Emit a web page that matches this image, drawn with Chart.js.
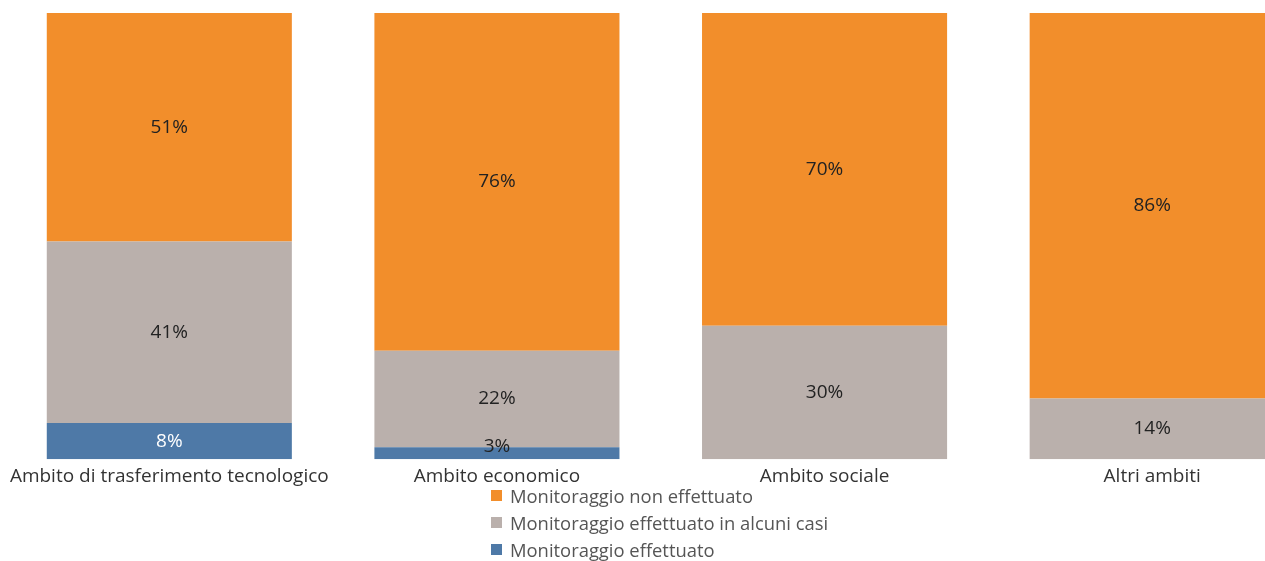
<!DOCTYPE html>
<html>
<head>
<meta charset="utf-8">
<script src="https://cdn.jsdelivr.net/npm/chart.js@4/dist/chart.umd.min.js"></script>
<style>
  html, body { margin: 0; padding: 0; background: #fff; overflow: hidden; width: 1265px; height: 561px; }
  #wrap { position: absolute; left: 0; top: 0; width: 1320px; height: 498px; }
  #legend { position: absolute; left: 491px; top: 482px; font-family: "Open Sans", sans-serif; font-size: 18.4px; color: #555; }
  .item { height: 27px; line-height: 27px; display: flex; align-items: center; }
  .sw { width: 11px; height: 11px; margin-right: 8px; }
</style>
</head>
<body>
<div id="wrap"><canvas id="c"></canvas></div>
<div id="legend"></div>
<script>
const categories = ["Ambito di trasferimento tecnologico", "Ambito economico", "Ambito sociale", "Altri ambiti"];
const seriesNames = ["Monitoraggio effettuato", "Monitoraggio effettuato in alcuni casi", "Monitoraggio non effettuato"];
const effettuato = [8.1, 2.7, 0, 0];
const alcuniCasi = [40.7, 21.6, 29.9, 13.6];
const nonEffettuato = [51.2, 75.7, 70.1, 86.4];
const colors = ["#4E79A7", "#BAB0AC", "#F28E2B"];
const labelColors = ["#ffffff", "#222222", "#222222"];
const legendOrder = [2, 1, 0];

const font = '"Open Sans", sans-serif';

const segLabels = {
  id: 'segLabels',
  afterDatasetsDraw(chart) {
    const ctx = chart.ctx;
    ctx.save();
    ctx.font = '19px ' + font;
    ctx.textAlign = 'center';
    ctx.textBaseline = 'middle';
    chart.data.datasets.forEach((ds, di) => {
      const meta = chart.getDatasetMeta(di);
      meta.data.forEach((bar, i) => {
        const v = ds.data[i];
        if (!v) return;
        const top = Math.min(bar.y, bar.base);
        const bottom = Math.max(bar.y, bar.base);
        let y = (top + bottom) / 2;
        let col = labelColors[di];
        if (bottom - top < 22) { y = chart.chartArea.bottom - 13; col = '#222222'; }
        ctx.fillStyle = col;
        ctx.fillText(Math.round(v) + '%', bar.x, y);
      });
    });
    ctx.restore();
  }
};

const datasets = [effettuato, alcuniCasi, nonEffettuato].map((d, i) => ({
  label: seriesNames[i],
  data: d,
  backgroundColor: colors[i],
  borderWidth: 0,
  barPercentage: 0.748,
  categoryPercentage: 1.0
}));

const chart = new Chart(document.getElementById('c'), {
  type: 'bar',
  data: { labels: categories, datasets },
  options: {
    responsive: true,
    maintainAspectRatio: false,
    animation: false,
    layout: { padding: { left: 5.5, right: 4, top: 13, bottom: 4 } },
    plugins: { legend: { display: false }, tooltip: { enabled: false } },
    scales: {
      x: {
        stacked: true,
        grid: { display: false, drawTicks: false },
        border: { display: false },
        ticks: { color: '#333', font: { family: font, size: 19 }, padding: 6, maxRotation: 0, autoSkip: false }
      },
      y: {
        stacked: true,
        display: false,
        min: 0,
        max: 100
      }
    }
  },
  plugins: [segLabels]
});

const lg = document.getElementById('legend');
legendOrder.forEach(i => {
  const row = document.createElement('div');
  row.className = 'item';
  const sw = document.createElement('span');
  sw.className = 'sw';
  sw.style.background = colors[i];
  const t = document.createElement('span');
  t.textContent = chart.data.datasets[i].label;
  row.appendChild(sw);
  row.appendChild(t);
  lg.appendChild(row);
});
</script>
</body>
</html>
